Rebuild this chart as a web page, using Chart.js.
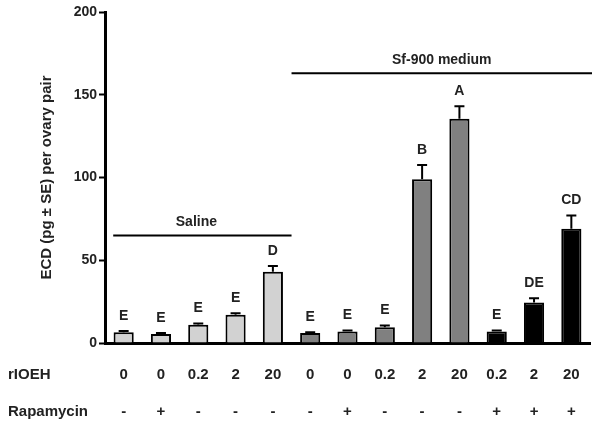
<!DOCTYPE html>
<html>
<head>
<meta charset="utf-8">
<script src="https://cdn.jsdelivr.net/npm/chart.js@4/dist/chart.umd.min.js"></script>
<style>
  html, body { margin: 0; padding: 0; background: #fff; }
  #wrap { width: 602px; height: 429px; }
</style>
</head>
<body>
<div id="wrap"><canvas id="ecdChart"></canvas></div>
<script>
const RIOEH = ["0", "0", "0.2", "2", "20", "0", "0", "0.2", "2", "20", "0.2", "2", "20"];
const RAPAMYCIN = ["-", "+", "-", "-", "-", "-", "+", "-", "-", "-", "+", "+", "+"];
const MEANS = [6.5, 5.5, 11, 17, 43, 6, 7, 9.5, 99, 135.5, 7, 24.5, 69];
const SE = [0.7, 0.6, 0.8, 1, 3.5, 0.5, 0.5, 1, 8.5, 7.5, 0.5, 2.5, 8];
const LETTERS = ["E", "E", "E", "E", "D", "E", "E", "E", "B", "A", "E", "DE", "CD"];
const GROUP_NAMES = ["Saline", "Sf-900 medium"];
const GROUP_FROM = [0, 5];
const GROUP_TO = [4, 12];
const GROUP_LEVEL = [65, 163];

const COLORS = ["#d2d2d2", "#d2d2d2", "#d2d2d2", "#d2d2d2", "#d2d2d2",
                "#808080", "#808080", "#808080", "#808080", "#808080",
                "#000000", "#000000", "#000000"];

const FONT = "'Liberation Sans', Arial, sans-serif";

// error bars, significance letters, group brackets and the two label rows
const annotations = {
    id: "annotations",
    afterDatasetsDraw(chart) {
        const ctx = chart.ctx;
        const x = chart.scales.x;
        const y = chart.scales.y;
        const step = x.getPixelForValue(1) - x.getPixelForValue(0);
        ctx.save();
        ctx.strokeStyle = "#000";
        ctx.fillStyle = "#222";
        ctx.lineWidth = 2;

        MEANS.forEach((m, i) => {
            const px = x.getPixelForValue(i);
            const top = y.getPixelForValue(m);
            const errTop = y.getPixelForValue(m + SE[i]);
            ctx.beginPath();
            ctx.moveTo(px, top);
            ctx.lineTo(px, errTop);
            ctx.moveTo(px - 5, errTop);
            ctx.lineTo(px + 5, errTop);
            ctx.stroke();

            ctx.font = "bold 14px " + FONT;
            ctx.textAlign = "center";
            ctx.textBaseline = "middle";
            ctx.fillText(LETTERS[i], px, errTop - 15);
        });

        GROUP_NAMES.forEach((name, g) => {
            const ly = y.getPixelForValue(GROUP_LEVEL[g]);
            const x0 = g === 0 ? x.getPixelForValue(GROUP_FROM[g]) - step * 0.28 : x.getPixelForValue(GROUP_FROM[g]) - step / 2;
            const x1 = g === 0 ? x.getPixelForValue(GROUP_TO[g]) + step / 2 : chart.chartArea.right + 2;
            ctx.beginPath();
            ctx.moveTo(x0, ly);
            ctx.lineTo(x1, ly);
            ctx.stroke();
            ctx.font = "bold 14px " + FONT;
            ctx.textAlign = "center";
            ctx.textBaseline = "middle";
            ctx.fillText(name, (x0 + x1) / 2 - (g === 0 ? 6 : 0), ly - 13);
        });

        const base = chart.chartArea.bottom;
        ctx.font = "bold 15px " + FONT;
        ctx.textBaseline = "middle";
        ctx.textAlign = "left";
        ctx.fillText("rIOEH", 8, base + 32);
        ctx.fillText("Rapamycin", 8, base + 69);
        ctx.textAlign = "center";
        RIOEH.forEach((v, i) => {
            const px = x.getPixelForValue(i);
            ctx.fillText(v, px, base + 32);
            ctx.fillText(RAPAMYCIN[i], px, base + 69);
        });
        ctx.restore();
    }
};

new Chart(document.getElementById("ecdChart"), {
    type: "bar",
    data: {
        labels: RIOEH.map((v, i) => v + " " + RAPAMYCIN[i]),
        datasets: [{
            data: MEANS,
            backgroundColor: COLORS,
            borderColor: "#000",
            borderWidth: 2,
            borderSkipped: "bottom",
            categoryPercentage: 1,
            barPercentage: 0.54
        }]
    },
    options: {
        responsive: true,
        maintainAspectRatio: false,
        animation: false,
        layout: { padding: { top: 12, right: 12, bottom: 78, left: 0 } },
        plugins: {
            legend: { display: false },
            tooltip: { enabled: false }
        },
        scales: {
            x: {
                grid: { display: false },
                border: { color: "#000", width: 3 },
                ticks: { display: false }
            },
            y: {
                min: 0,
                max: 200,
                afterFit: (scale) => { scale.width = 105; },
                ticks: {
                    stepSize: 50,
                    color: "#222",
                    padding: 2,
                    font: { family: FONT, size: 14, weight: "bold" }
                },
                grid: {
                    drawOnChartArea: false,
                    drawTicks: true,
                    tickLength: 6,
                    tickWidth: 2,
                    color: "#000"
                },
                border: { color: "#000", width: 3 },
                title: {
                    display: true,
                    text: "ECD (pg ± SE) per ovary pair",
                    color: "#222",
                    font: { family: FONT, size: 15, weight: "bold" },
                    padding: { top: 38, bottom: 0 }
                }
            }
        }
    },
    plugins: [annotations]
});
</script>
</body>
</html>
